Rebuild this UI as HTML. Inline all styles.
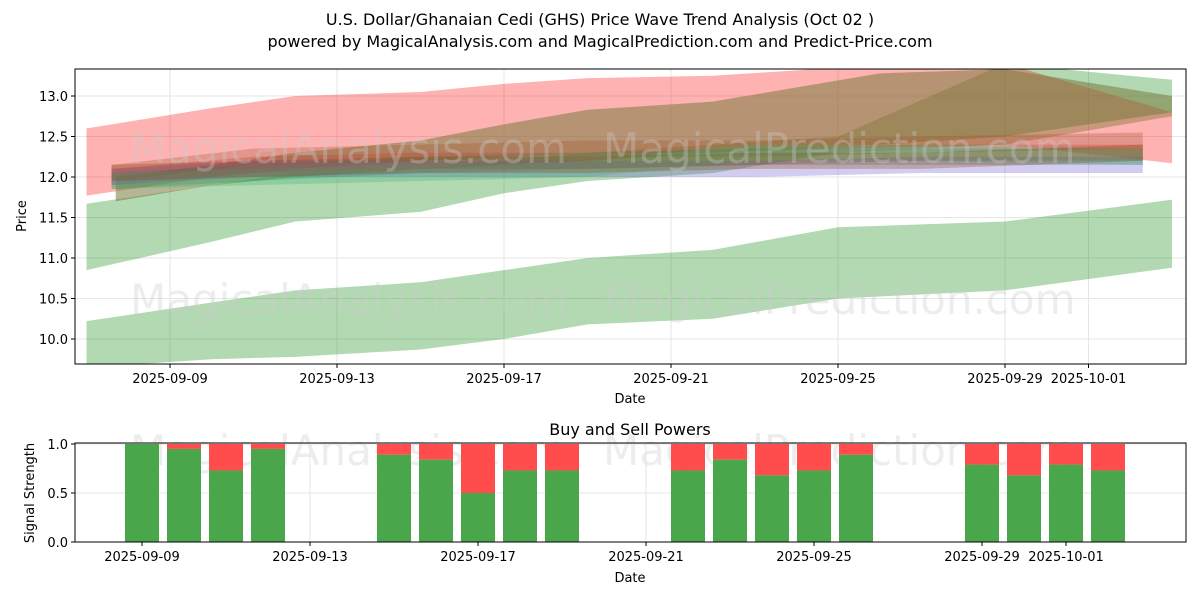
<!DOCTYPE html>
<html><head><meta charset="utf-8"><style>
body{margin:0;background:#fff;font-family:"Liberation Sans","DejaVu Sans",sans-serif}
svg text{font-family:"DejaVu Sans","Liberation Sans",sans-serif}
</style></head><body>
<svg id="chart" width="1200" height="600" viewBox="0 0 1200 600">
<rect width="1200" height="600" fill="#fff"/>
<text x="600" y="25" text-anchor="middle" font-size="16">U.S. Dollar/Ghanaian Cedi (GHS) Price Wave Trend Analysis (Oct 02 )</text>
<text x="600" y="47" text-anchor="middle" font-size="16">powered by MagicalAnalysis.com and MagicalPrediction.com and Predict-Price.com</text>
<defs><clipPath id="c1"><rect x="75" y="69" width="1111" height="295"/></clipPath></defs>
<g id="top-grid"></g>
<g id="bands" clip-path="url(#c1)"></g>
<g font-size="42" fill="#ccc" opacity="0.35">
<text x="130" y="163">MagicalAnalysis.com</text><text x="603" y="163">MagicalPrediction.com</text>
<text x="130" y="314">MagicalAnalysis.com</text><text x="603" y="314">MagicalPrediction.com</text>
<text x="130" y="465">MagicalAnalysis.com</text><text x="603" y="465">MagicalPrediction.com</text>
</g>
<rect x="75" y="69" width="1111" height="295" fill="none" stroke="#000"/>
<g id="top-ticks" font-size="13"></g>
<text x="630" y="403" text-anchor="middle" font-size="13">Date</text>
<text x="26" y="216" text-anchor="middle" font-size="13" transform="rotate(-90 26 216)">Price</text>
<text x="630" y="435" text-anchor="middle" font-size="16">Buy and Sell Powers</text>
<g id="bot-grid"></g>
<g id="bars"></g>
<rect x="75" y="443" width="1111" height="99" fill="none" stroke="#000"/>
<g id="bot-ticks" font-size="13"></g>
<text x="630" y="582" text-anchor="middle" font-size="13">Date</text>
<text x="34" y="493" text-anchor="middle" font-size="13" transform="rotate(-90 34 493)">Signal Strength</text>
</svg>
<script>
const xTickDays=[0,4,8,12,16,20,22];
const xTickLabels=["2025-09-09","2025-09-13","2025-09-17","2025-09-21","2025-09-25","2025-09-29","2025-10-01"];
const yTicks=[10.0,10.5,11.0,11.5,12.0,12.5,13.0];
const bandDays=[-2,1,3,6,8,10,13,16,20,24];
const redUpper=[12.6,12.85,13.0,13.05,13.15,13.22,13.25,13.35,13.4,12.8];
const redLower=[11.77,12.0,12.1,12.2,12.25,12.3,12.3,12.35,12.4,12.17];
const brownDays=[-1.3,1,3,6,8,10,13,17,20,24];
const brownUpper=[12.0,12.15,12.3,12.45,12.65,12.83,12.93,13.28,13.33,13.0];
const brownLower=[11.7,11.9,12.0,12.1,12.15,12.2,12.3,12.4,12.5,12.8];
const greenHiUpper=[11.67,11.9,12.05,12.1,12.2,12.3,12.4,12.5,13.4,13.2];
const greenHiLower=[10.85,11.2,11.45,11.57,11.8,11.95,12.05,12.3,12.4,12.75];
const greenLoUpper=[10.22,10.45,10.6,10.7,10.85,11.0,11.1,11.38,11.45,11.72];
const greenLoLower=[9.65,9.75,9.78,9.87,10.0,10.18,10.25,10.5,10.6,10.88];
const thinDays=[-1.4,2,6,10,14,18,23.3];
const thinCenters=[
 [12.05,12.25,12.3,12.35,12.35,12.4,12.45],
 [12.0,12.15,12.2,12.2,12.25,12.3,12.3],
 [11.95,12.05,12.15,12.2,12.25,12.25,12.25],
 [12.0,12.1,12.1,12.1,12.1,12.15,12.15],
 [11.95,12.0,12.05,12.1,12.3,12.3,12.25],
 [12.05,12.1,12.15,12.15,12.2,12.2,12.3]];
const thinColors=["#a0522d","#c04040","#2e8b57","#6a5acd","#3cb371","#8b4513"];
const barDays=[0,1,2,3,6,7,8,9,10,13,14,15,16,17,20,21,22,23];
const buyVals=[1.0,0.95,0.73,0.95,0.89,0.84,0.5,0.73,0.73,0.73,0.84,0.68,0.73,0.89,0.79,0.68,0.79,0.73];
const botTickDays=[0,4,8,12,16,20,22];

const NS="http://www.w3.org/2000/svg";
const xT=d=>170+d*41.75, yT=v=>96+(13-v)*81;
const xB=d=>142+d*42, yB=v=>542-v*98;
function mk(tag,attrs,parent){const e=document.createElementNS(NS,tag);for(const k in attrs)e.setAttribute(k,attrs[k]);document.getElementById(parent).appendChild(e);return e;}
function band(days,up,lo,fill,op,name){
 let p=days.map((d,i)=>xT(d)+","+yT(up[i]));
 for(let i=days.length-1;i>=0;i--)p.push(xT(days[i])+","+yT(lo[i]));
 const e=mk("polygon",{points:p.join(" "),fill:fill,"fill-opacity":op},"bands");
 
 
}
xTickDays.forEach((d,i)=>{
 const g=mk("line",{x1:xT(d),x2:xT(d),y1:69,y2:364,stroke:"#e6e6e6"},"top-grid");
 
 
 mk("line",{x1:xT(d),x2:xT(d),y1:364,y2:368,stroke:"#000"},"top-ticks");
 const t=mk("text",{x:xT(d),y:383,"text-anchor":"middle"},"top-ticks");t.textContent=xTickLabels[i];
 
 
});
yTicks.forEach(v=>{
 const g=mk("line",{x1:75,x2:1186,y1:yT(v),y2:yT(v),stroke:"#e6e6e6"},"top-grid");
 
 
 mk("line",{x1:71,x2:75,y1:yT(v),y2:yT(v),stroke:"#000"},"top-ticks");
 const t=mk("text",{x:68,y:yT(v)+5,"text-anchor":"end"},"top-ticks");t.textContent=v.toFixed(1);
 
 
});
band(bandDays,greenLoUpper,greenLoLower,"#008000",0.3,"lower-green-band");
band(bandDays,greenHiUpper,greenHiLower,"#008000",0.3,"upper-green-band");
band(bandDays,redUpper,redLower,"#ff0000",0.3,"red-band");
band(brownDays,brownUpper,brownLower,"#7a7a40",0.55,"brown-band");
thinCenters.forEach((c,k)=>{
 band(thinDays,c.map(v=>v+0.1),c.map(v=>v-0.1),thinColors[k],0.3,"thin-wave-band");
});
[0,0.5,1].forEach(v=>{
 const g=mk("line",{x1:75,x2:1186,y1:yB(v),y2:yB(v),stroke:"#e6e6e6"},"bot-grid");
 
 
 mk("line",{x1:71,x2:75,y1:yB(v),y2:yB(v),stroke:"#000"},"bot-ticks");
 const t=mk("text",{x:68,y:yB(v)+5,"text-anchor":"end"},"bot-ticks");t.textContent=v.toFixed(1);
 
 
});
botTickDays.forEach((d,i)=>{
 const g=mk("line",{x1:xB(d),x2:xB(d),y1:443,y2:542,stroke:"#e6e6e6"},"bot-grid");
 
 
 mk("line",{x1:xB(d),x2:xB(d),y1:542,y2:546,stroke:"#000"},"bot-ticks");
 const t=mk("text",{x:xB(d),y:561,"text-anchor":"middle"},"bot-ticks");t.textContent=xTickLabels[i];
 
 
});
barDays.forEach((d,i)=>{
 const x=xB(d)-17, b=buyVals[i];
 const r=mk("rect",{x:x,y:yB(1),width:34,height:yB(b)-yB(1),fill:"#ff4d4d"},"bars");
 
 
 const g=mk("rect",{x:x,y:yB(b),width:34,height:yB(0)-yB(b),fill:"#4aa64a"},"bars");
 
 
});
</script>
</body></html>
